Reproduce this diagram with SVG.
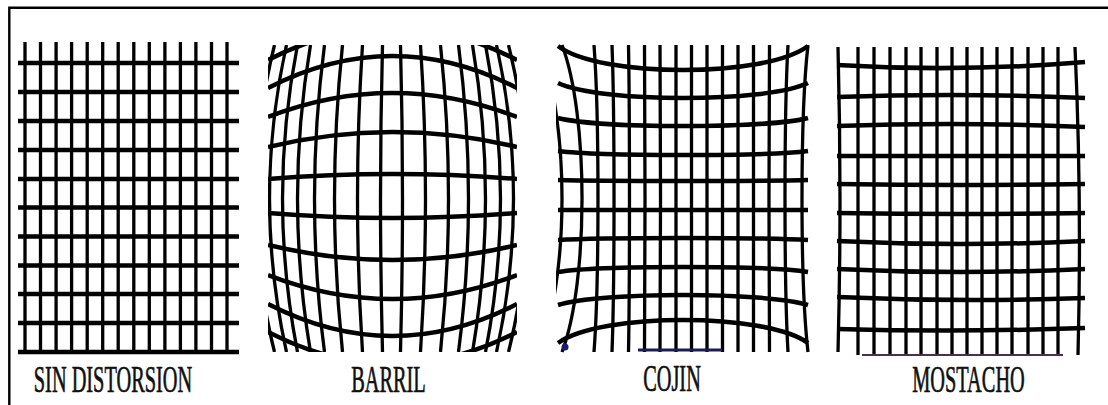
<svg xmlns="http://www.w3.org/2000/svg" width="1108" height="405" viewBox="0 0 1108 405">
<style>
.h{fill:none;stroke:#000;stroke-width:4.5}
.v{fill:none;stroke:#000;stroke-width:3.3}
.lbl{font-family:"Liberation Serif","Times New Roman",serif;font-size:37px;fill:#111;stroke:#111;stroke-width:0.7;text-anchor:middle}
</style>
<defs>
<clipPath id="cb"><rect x="268" y="45" width="249" height="307"/></clipPath>
<clipPath id="cc"><rect x="556" y="44" width="254" height="309"/></clipPath>
</defs>
<rect width="1108" height="405" fill="#fff"/>
<g id="frame" fill="none" stroke="#000" stroke-width="2.4">
<path d="M9.3,405 L9.3,7.8 L1108,7.8"/>
</g>

<g id="sin-distorsion">
<g class="v">
<path d="M25,42V352M40.5,42V352M56.1,42V352M71.6,42V352M87.2,42V352M102.7,42V352M118.2,42V352M133.8,42V352M149.3,42V352M164.9,42V352M180.4,42V352M195.9,42V352M211.5,42V352M227,42V352"/>
</g>
<g class="h">
<path d="M18,63H239M18,92H239M18,121H239M18,150H239M18,179H239M18,207.5H239M18,236.5H239M18,265.5H239M18,294H239M18,323H239M18,352H239"/>
</g>
<text class="lbl" transform="translate(113,392) scale(0.55,1)">SIN DISTORSION</text>
</g>

<g id="barril">
<g clip-path="url(#cb)">
<g class="v">
<path d="M382.5,45Q378.5,198.5 382.5,352M362.5,45Q352.5,198.5 362.5,352M342.5,45Q326.5,198.5 342.5,352M324.5,45Q304.5,198.5 324.5,352M310.5,45Q284.5,198.5 310.5,352M297.5,45Q267.5,198.5 297.5,352M286.5,45Q252.5,198.5 286.5,352M274.5,45Q236.5,198.5 274.5,352"/>
<path d="M400.5,45Q404.5,198.5 400.5,352M420.5,45Q430.5,198.5 420.5,352M440.5,45Q456.5,198.5 440.5,352M458.5,45Q478.5,198.5 458.5,352M472.5,45Q498.5,198.5 472.5,352M485.5,45Q515.5,198.5 485.5,352M496.5,45Q530.5,198.5 496.5,352M508.5,45Q546.5,198.5 508.5,352"/>
</g>
<g class="h">
<path d="M268,60Q392.5,-4 517,60M268,88Q392.5,24 517,88M268,117Q392.5,69 517,117M268,147Q392.5,117 517,147M268,179Q392.5,169 517,179"/>
<path d="M268,213Q392.5,223 517,213M268,245Q392.5,275 517,245M268,275Q392.5,323 517,275M268,304Q392.5,368 517,304M268,332Q392.5,396 517,332"/>
</g>
</g>
<text class="lbl" transform="translate(388.5,392) scale(0.55,1)">BARRIL</text>
</g>

<g id="cojin">
<g clip-path="url(#cc)">
<g class="v">
<path d="M538,45C570,115 570,282 538,352M562,45C588.7,115 588.7,282 562,352M594,45C599.3,115 599.3,282 594,352M612,45C614.7,115 614.7,282 612,352M628.5,45C629.8,115 629.8,282 628.5,352M644.5,45C645.2,115 645.2,282 644.5,352M660,45C660.7,115 660.7,282 660,352"/>
<path d="M676,45V352M691.5,45V352M707,45V352M722.5,45V352M738,45V352M753.5,45V352M769.5,45C768.8,115 768.8,282 769.5,352M788,45C784,115 784,282 788,352M808,45C800,115 800,282 808,352"/>
</g>
<g class="h">
<path d="M558,46C600,78 766,78 808,46M558,83C600,103 766,103 808,83M558,118C600,128.7 766,128.7 808,118M558,151C600,156.3 766,156.3 808,151M558,180C600,181.3 766,181.3 808,180"/>
<path d="M558,210H808M558,240C600,237.3 766,237.3 808,240M558,272C600,265.3 766,265.3 808,272M558,305C600,291.7 766,291.7 808,305M558,343C600,312.3 766,312.3 808,343"/>
</g>
</g>
<path d="M638,350H722" stroke="#1c1c55" stroke-width="3"/>
<circle cx="565" cy="347" r="3.5" fill="#1a1a70"/>
<text class="lbl" transform="translate(672,391) scale(0.55,1)">COJIN</text>
</g>

<g id="mostacho">
<g class="v">
<path d="M838,47Q842,200 838,352M858,47V355M874,47V355M890,47V355M906,47V355M921,47V355M937,47V355M952,47V355M967,47V355M982,47V355M997,47V355M1012,47V355M1028,47V355M1043,47V355M1058,47V355M1075,47Q1082,200 1078,355"/>
</g>
<g class="h">
<path d="M837,65Q961,72.5 1085,62M837,97Q961,92.5 1085,98M837,126Q961,121.5 1085,127M837,156H1085M837,184Q961,186 1085,184"/>
<path d="M837,213Q961,215 1085,213M837,241Q961,247 1085,241M837,269Q961,275 1085,269M837,297Q961,302.5 1085,298M837,329Q961,332.5 1085,328"/>
</g>
<path d="M862,355H1063" stroke="#4a3050" stroke-width="2"/>
<text class="lbl" transform="translate(968.5,392) scale(0.55,1)">MOSTACHO</text>
</g>
</svg>
